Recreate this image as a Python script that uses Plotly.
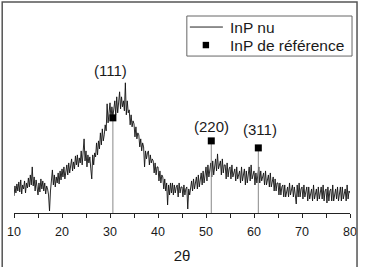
import plotly.graph_objects as go

# XRD pattern "InP nu", read every 0.2 deg from 10 to 80 (2theta)
start_2theta = 10.0
step_2theta = 0.2
intensity = [
    17, 27, 20, 29, 22,   31, 21, 33, 19, 28,   24, 32, 20, 30, 25,   # 10-12
    35, 26, 38, 28, 46,   27, 36, 22, 33, 26,   18, 30, 21, 34, 24,   # 13-15
    32, 22, 30, 19, 27,   24, 18, 2, 22, 30,    43, 28, 38, 26, 36,   # 16-18
    30, 40, 29, 42, 33,   44, 36, 46, 34, 41,   48, 38, 50, 40, 47,   # 19-21
    54, 42, 51, 44, 57,   48, 58, 46, 55, 50,   62, 48, 60, 74, 52,   # 22-24
    62, 46, 58, 50, 56,   44, 34, 58, 48, 60,   56, 70, 58, 72, 64,   # 25-27
    80, 68, 84, 72, 78,   88, 82, 109, 90, 98,  110, 94, 106, 96, 104, # 28-30
    112, 98, 116, 100, 110, 121, 104, 116, 106, 112, 102, 130, 98, 112, 100,  # 31-33
    103, 88, 98, 86, 92,  89, 76, 86, 74, 80,   78, 66, 74, 62, 70,   # 34-36
    66, 46, 62, 54, 60,   62, 48, 58, 50, 54,   52, 40, 50, 38, 46,   # 37-39
    46, 32, 42, 30, 38,   36, 24, 34, 22, 30,   8, 28, 18, 30, 20,    # 40-42
    30, 18, 28, 20, 26,   28, 16, 30, 20, 26,   26, 16, 28, 18, 24,   # 43-45
    26, 4, 24, 18, 28,    32, 22, 34, 24, 30,   36, 24, 38, 26, 32,   # 46-48
    40, 28, 42, 30, 36,   46, 32, 48, 36, 42,   50, 36, 52, 38, 46,   # 49-51
    54, 42, 59, 44, 50,   52, 38, 54, 40, 48,   48, 34, 50, 36, 44,   # 52-54
    46, 34, 48, 36, 42,   44, 32, 46, 34, 40,   42, 30, 46, 32, 40,   # 55-57
    44, 28, 42, 30, 38,   46, 32, 48, 34, 40,   42, 28, 40, 30, 36,   # 58-60
    46, 30, 42, 32, 38,   40, 28, 42, 28, 36,   38, 26, 40, 26, 34,   # 61-63
    36, 22, 34, 22, 30,   30, 18, 30, 18, 26,   28, 16, 28, 16, 24,   # 64-66
    26, 16, 30, 18, 24,   28, 16, 26, 18, 9,    28, 16, 30, 16, 24,   # 67-69
    26, 14, 28, 16, 22,   26, 12, 26, 14, 22,   24, 12, 28, 14, 22,   # 70-72
    24, 12, 26, 14, 20,   26, 14, 28, 12, 22,   24, 10, 26, 12, 22,   # 73-75
    24, 12, 28, 12, 20,   24, 14, 26, 12, 22,   26, 12, 26, 14, 22,   # 76-78
    24, 12, 28, 14, 22,   20,                                          # 79-80
]
two_theta = [start_2theta + step_2theta * i for i in range(len(intensity))]

# Reference InP peaks
ref_2theta = [30.6, 51.1, 60.9]
ref_intensity = [95, 72, 65]
ref_labels = ["(111)", "(220)", "(311)"]
label_2theta = [30.2, 51.2, 61.2]
label_intensity = [142, 86, 83]

x_ticks = [10, 20, 30, 40, 50, 60, 70, 80]
legend_names = ["InP nu", "InP de référence"]

FONT = "Liberation Sans, Arial, sans-serif"
TXT = "#1a1a1a"

fig = go.Figure()
fig.add_trace(go.Scatter(
    x=two_theta, y=intensity, mode="lines", name=legend_names[0],
    line=dict(color="#111111", width=0.9), showlegend=False,
))
fig.add_trace(go.Scatter(
    x=ref_2theta, y=ref_intensity, mode="markers", name=legend_names[1],
    marker=dict(symbol="square", size=7, color="black"), showlegend=False,
    error_y=dict(type="data", symmetric=False, array=[0] * len(ref_intensity),
                 arrayminus=ref_intensity, width=0, color="#888888", thickness=1),
))

for lx, ly, lt in zip(label_2theta, label_intensity, ref_labels):
    fig.add_annotation(x=lx, y=ly, text=lt, showarrow=False,
                       font=dict(family=FONT, size=15, color=TXT))

# outer frame (left, top, right sides)
fig.add_shape(type="rect", xref="paper", yref="paper",
              x0=-0.0351, x1=1.0209, y0=-0.30, y1=1.0395,
              line=dict(color="#555555", width=1.5), fillcolor="rgba(0,0,0,0)")

# legend box drawn in paper coordinates
fig.add_shape(type="rect", xref="paper", yref="paper",
              x0=0.5144, x1=1.0060, y0=0.7731, y1=0.9704,
              line=dict(color="#666666", width=1), fillcolor="white")
fig.add_shape(type="line", xref="paper", yref="paper",
              x0=0.5234, x1=0.6217, y0=0.9161, y1=0.9161,
              line=dict(color="#222222", width=1))
fig.add_shape(type="rect", xref="paper", yref="paper",
              x0=0.5711 - 0.0095, x1=0.5711 + 0.0095, y0=0.8273 - 0.0158, y1=0.8273 + 0.0158,
              line=dict(color="black", width=0), fillcolor="black")
for name, ly in zip(legend_names, [0.9161, 0.8273]):
    fig.add_annotation(xref="paper", yref="paper", x=0.6366, y=ly, text=name,
                       xanchor="left", yanchor="middle", showarrow=False,
                       font=dict(family=FONT, size=15.5, color=TXT))

fig.update_layout(
    width=372, height=267,
    margin=dict(l=14, r=22, t=10, b=54, autoexpand=False),
    paper_bgcolor="white", plot_bgcolor="white",
    font=dict(family=FONT, size=13, color=TXT),
    showlegend=False,
    xaxis=dict(range=[10, 80], tickvals=x_ticks, ticks="outside", ticklen=4,
               tickcolor="#222222", showline=True, linecolor="#222222", linewidth=1.2,
               showgrid=False, zeroline=False, ticklabelstandoff=3, automargin=False,
               minor=dict(dtick=5, ticks="outside", ticklen=4, tickcolor="#222222", showgrid=False),
               tickfont=dict(family=FONT, size=12.5, color=TXT),
               title=dict(text="2θ", font=dict(family=FONT, size=15, color=TXT), standoff=12)),
    yaxis=dict(range=[0, 202.7], visible=False, showgrid=False, zeroline=False),
)

fig.write_html("out.html")
